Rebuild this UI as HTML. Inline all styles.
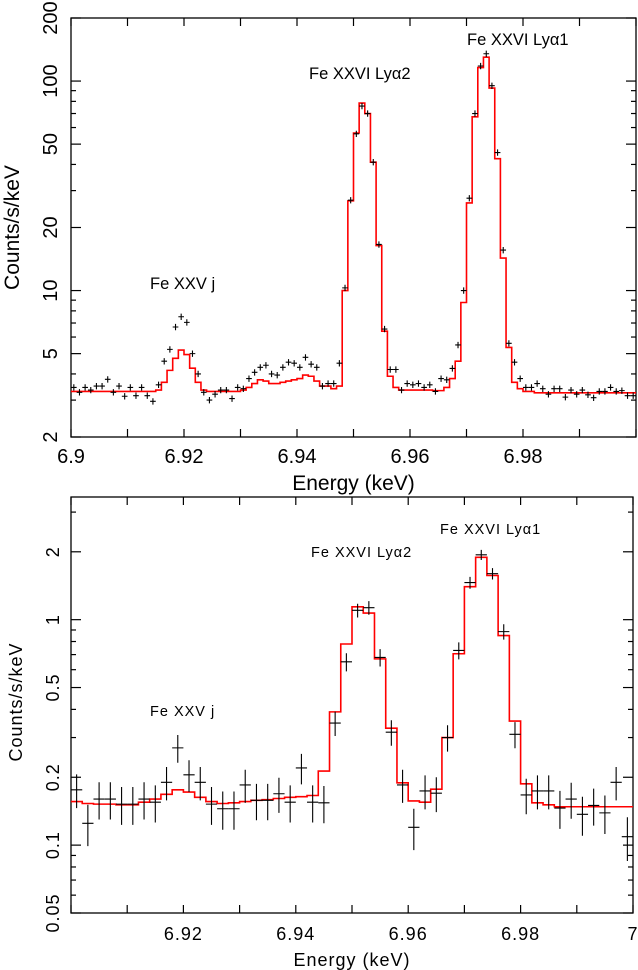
<!DOCTYPE html>
<html><head><meta charset="utf-8"><style>
html,body{margin:0;padding:0;background:#fff;}
svg{display:block;}
text{font-family:"Liberation Sans",sans-serif;fill:#000;}
</style></head><body>
<svg id="chart" width="638" height="970" viewBox="0 0 638 970" xmlns="http://www.w3.org/2000/svg">
<g id="top"></g>
<g id="bot"></g>
</svg>
<script>
// ---- Top panel data (bins of 0.001 keV from 6.900) ----
const topModel = [3.3,3.3,3.3,3.3,3.3,3.3,3.3,3.3,3.3,3.3,3.3,3.3,3.3,3.3,3.3,3.35,3.65,4.16,4.75,5.2,4.95,4.26,3.65,3.35,3.3,3.3,3.3,3.3,3.3,3.3,3.35,3.45,3.6,3.75,3.7,3.6,3.6,3.65,3.7,3.75,3.8,3.95,3.9,3.7,3.5,3.5,3.4,3.5,10,26.8,56.5,78.5,70,41,16.4,6.4,3.9,3.45,3.35,3.35,3.35,3.35,3.35,3.35,3.33,3.33,3.45,3.8,4.6,8.77,26.2,67.5,116,130,92.6,42.6,14.3,5.35,3.65,3.4,3.3,3.3,3.25,3.25,3.25,3.25,3.25,3.25,3.25,3.25,3.25,3.25,3.25,3.25,3.25,3.25,3.25,3.25,3.25,3.25];
const topData = [3.45,3.27,3.45,3.35,3.5,3.5,3.77,3.27,3.5,3.13,3.45,3.15,3.45,3.15,2.96,3.55,4.6,5.24,6.7,7.5,7.05,5.0,4.0,3.27,3.0,3.2,3.35,3.35,3.05,3.45,3.4,3.8,4.07,4.3,4.4,4.0,3.95,4.3,4.55,4.5,4.3,4.8,4.45,4.3,3.5,3.6,3.6,4.5,10.3,27,56,76,70,41,16.6,6.55,4.2,4.2,3.35,3.6,3.55,3.6,3.45,3.55,3.3,3.8,3.75,4.25,5.5,10,27.6,70,118,135,95,45.6,15.6,5.6,4.55,3.8,3.45,3.45,3.6,3.4,3.2,3.4,3.4,3.1,3.35,3.2,3.35,3.18,3.08,3.3,3.3,3.45,3.3,3.33,3.15,3.15];
const topYTicks = [2,5,10,20,50,100,200];
const topYLabels = ["2","5","10","20","50","100","200"];
const topXTicks = [6.9,6.92,6.94,6.96,6.98];
const topXLabels = ["6.9","6.92","6.94","6.96","6.98"];
// ---- Bottom panel data (bins of 0.002 keV from 6.900) ----
const botModel = [0.156,0.153,0.152,0.152,0.151,0.151,0.155,0.16,0.168,0.176,0.172,0.163,0.156,0.153,0.154,0.156,0.158,0.159,0.161,0.163,0.164,0.166,0.213,0.39,0.78,1.14,1.07,0.67,0.33,0.189,0.157,0.155,0.177,0.3,0.706,1.4,1.89,1.57,0.85,0.355,0.187,0.154,0.151,0.148,0.148,0.148,0.148,0.148,0.148,0.148];
const botData = [0.176,0.125,0.16,0.16,0.152,0.152,0.16,0.155,0.19,0.27,0.205,0.19,0.152,0.145,0.145,0.185,0.158,0.158,0.169,0.155,0.22,0.155,0.154,0.348,0.65,1.1,1.13,0.68,0.317,0.185,0.12,0.174,0.17,0.3,0.73,1.46,1.94,1.6,0.885,0.31,0.167,0.174,0.174,0.146,0.16,0.137,0.15,0.139,0.19,0.109];
const botErr = [0.03,0.026,0.03,0.03,0.029,0.029,0.03,0.029,0.032,0.038,0.033,0.032,0.029,0.028,0.028,0.031,0.029,0.029,0.03,0.029,0.034,0.029,0.029,0.043,0.06,0.077,0.078,0.06,0.041,0.031,0.025,0.03,0.03,0.04,0.063,0.088,0.1,0.092,0.069,0.041,0.03,0.03,0.03,0.028,0.029,0.027,0.028,0.027,0.032,0.024];
const botYTicks = [0.05,0.1,0.2,0.5,1,2];
const botYLabels = ["0.05","0.1","0.2","0.5","1","2"];
const botXTicks = [6.92,6.94,6.96,6.98,7.0];
const botXLabels = ["6.92","6.94","6.96","6.98","7"];

const NS="http://www.w3.org/2000/svg";
function mk(parent,tag,attrs){const e=document.createElementNS(NS,tag);for(const k in attrs)e.setAttribute(k,attrs[k]);parent.appendChild(e);return e;}

function panel(g,cfg){
  const {x0,x1,y0,y1,xmin,xmax,ymin,ymax}=cfg;
  const sx=v=>x0+(v-xmin)/(xmax-xmin)*(x1-x0);
  const sy=v=>y1-(Math.log10(v)-Math.log10(ymin))/(Math.log10(ymax)-Math.log10(ymin))*(y1-y0);
  const fr=mk(g,'rect',{x:x0,y:y0,width:x1-x0,height:y1-y0,fill:'none',stroke:'#000','stroke-width':1.3});
  
  
  for(let i=0;i<=10;i++){
    const v=xmin+i*0.01;const X=sx(v);
    mk(g,'line',{x1:X,x2:X,y1:y1,y2:y1-8,stroke:'#000','stroke-width':1.2});
    mk(g,'line',{x1:X,x2:X,y1:y0,y2:y0+8,stroke:'#000','stroke-width':1.2});
  }
  cfg.xTicks.forEach((v,i)=>{
    const t=mk(g,'text',{x:sx(v),y:y1+cfg.xLabDy,'font-size':cfg.fs,'text-anchor':'middle','letter-spacing':cfg.ls});
    t.textContent=cfg.xLabels[i];
    
    
  });
  const lo=Math.floor(Math.log10(ymin)),hi=Math.ceil(Math.log10(ymax));
  for(let d=lo;d<=hi;d++)for(let m=1;m<=9;m++){
    const v=m*Math.pow(10,d);if(v<ymin*0.999||v>ymax*1.001)continue;
    const major=cfg.yTicks.some(t=>Math.abs(t-v)/v<1e-6);
    const L=major?10:5,Y=sy(v);
    mk(g,'line',{x1:x0,x2:x0+L,y1:Y,y2:Y,stroke:'#000','stroke-width':1.2});
    mk(g,'line',{x1:x1,x2:x1-L,y1:Y,y2:Y,stroke:'#000','stroke-width':1.2});
  }
  cfg.yTicks.forEach((v,i)=>{
    const Y=sy(v),X=cfg.yLabX;
    const t=mk(g,'text',{x:X,y:Y,'font-size':cfg.fs,'text-anchor':'middle','letter-spacing':cfg.ls,transform:`rotate(-90 ${X} ${Y})`});
    t.textContent=cfg.yLabels[i];
    
    
  });
  const w=cfg.binW;let d='';
  cfg.model.forEach((v,i)=>{const xa=sx(xmin+i*w),xb=sx(xmin+(i+1)*w),Y=sy(v);d+=(i?'L':'M')+xa+' '+Y+'L'+xb+' '+Y;});
  const p=mk(g,'path',{d:d,fill:'none',stroke:'#f00','stroke-width':1.6});
  
  
  const dg=mk(g,'g',{stroke:'#000','stroke-width':1.1});
  
  
  cfg.data.forEach((v,i)=>{
    const xa=sx(xmin+i*w),xb=sx(xmin+(i+1)*w),xc=(xa+xb)/2,Y=sy(v);
    const e=cfg.err?cfg.err[i]:v*0.035;
    const pt=mk(dg,'path',{d:`M${xa} ${Y}L${xb} ${Y}M${xc} ${sy(v+e)}L${xc} ${sy(Math.max(v-e,1e-3))}`});
    
    
  });
  const xl=mk(g,'text',{x:(x0+x1)/2,y:cfg.xTitleY,'font-size':cfg.tfs,'text-anchor':'middle','letter-spacing':cfg.ls});
  xl.textContent='Energy (keV)';
  
  
  const yc=(y0+y1)/2+cfg.yTitleDy;
  const yl=mk(g,'text',{x:cfg.yTitleX,y:yc,'font-size':cfg.tfs,'text-anchor':'middle','letter-spacing':cfg.ls,transform:`rotate(-90 ${cfg.yTitleX} ${yc})`});
  yl.textContent='Counts/s/keV';
  
  
  cfg.ann.forEach(a=>{
    const t=mk(g,'text',{x:a[1],y:a[2],'font-size':cfg.afs,'letter-spacing':cfg.ls});
    t.textContent=a[0];
    
    
  });
}

panel(document.getElementById('top'),{x0:71,x1:636,y0:18,y1:437,xmin:6.9,xmax:7.0,ymin:2,ymax:200,binW:0.001,
  model:topModel,data:topData,xTicks:topXTicks,xLabels:topXLabels,yTicks:topYTicks,yLabels:topYLabels,
  fs:20,tfs:21,afs:16.5,ls:0,xLabDy:26,yLabX:57,xTitleY:490,yTitleX:19,yTitleDy:0,
  ann:[["Fe XXV j",150,289],["Fe XXVI Ly\u03b12",309,79],["Fe XXVI Ly\u03b11",467,45]]});
panel(document.getElementById('bot'),{x0:71,x1:633,y0:497,y1:913,xmin:6.9,xmax:7.0,ymin:0.05,ymax:3.5,binW:0.002,
  model:botModel,data:botData,err:botErr,xTicks:botXTicks,xLabels:botXLabels,yTicks:botYTicks,yLabels:botYLabels,
  fs:18,tfs:18,afs:14.5,ls:1,xLabDy:27,yLabX:59,xTitleY:966,yTitleX:22,yTitleDy:-3,
  ann:[["Fe XXV j",150,716],["Fe XXVI Ly\u03b12",311,557],["Fe XXVI Ly\u03b11",440,534]]});
</script>
</body></html>
